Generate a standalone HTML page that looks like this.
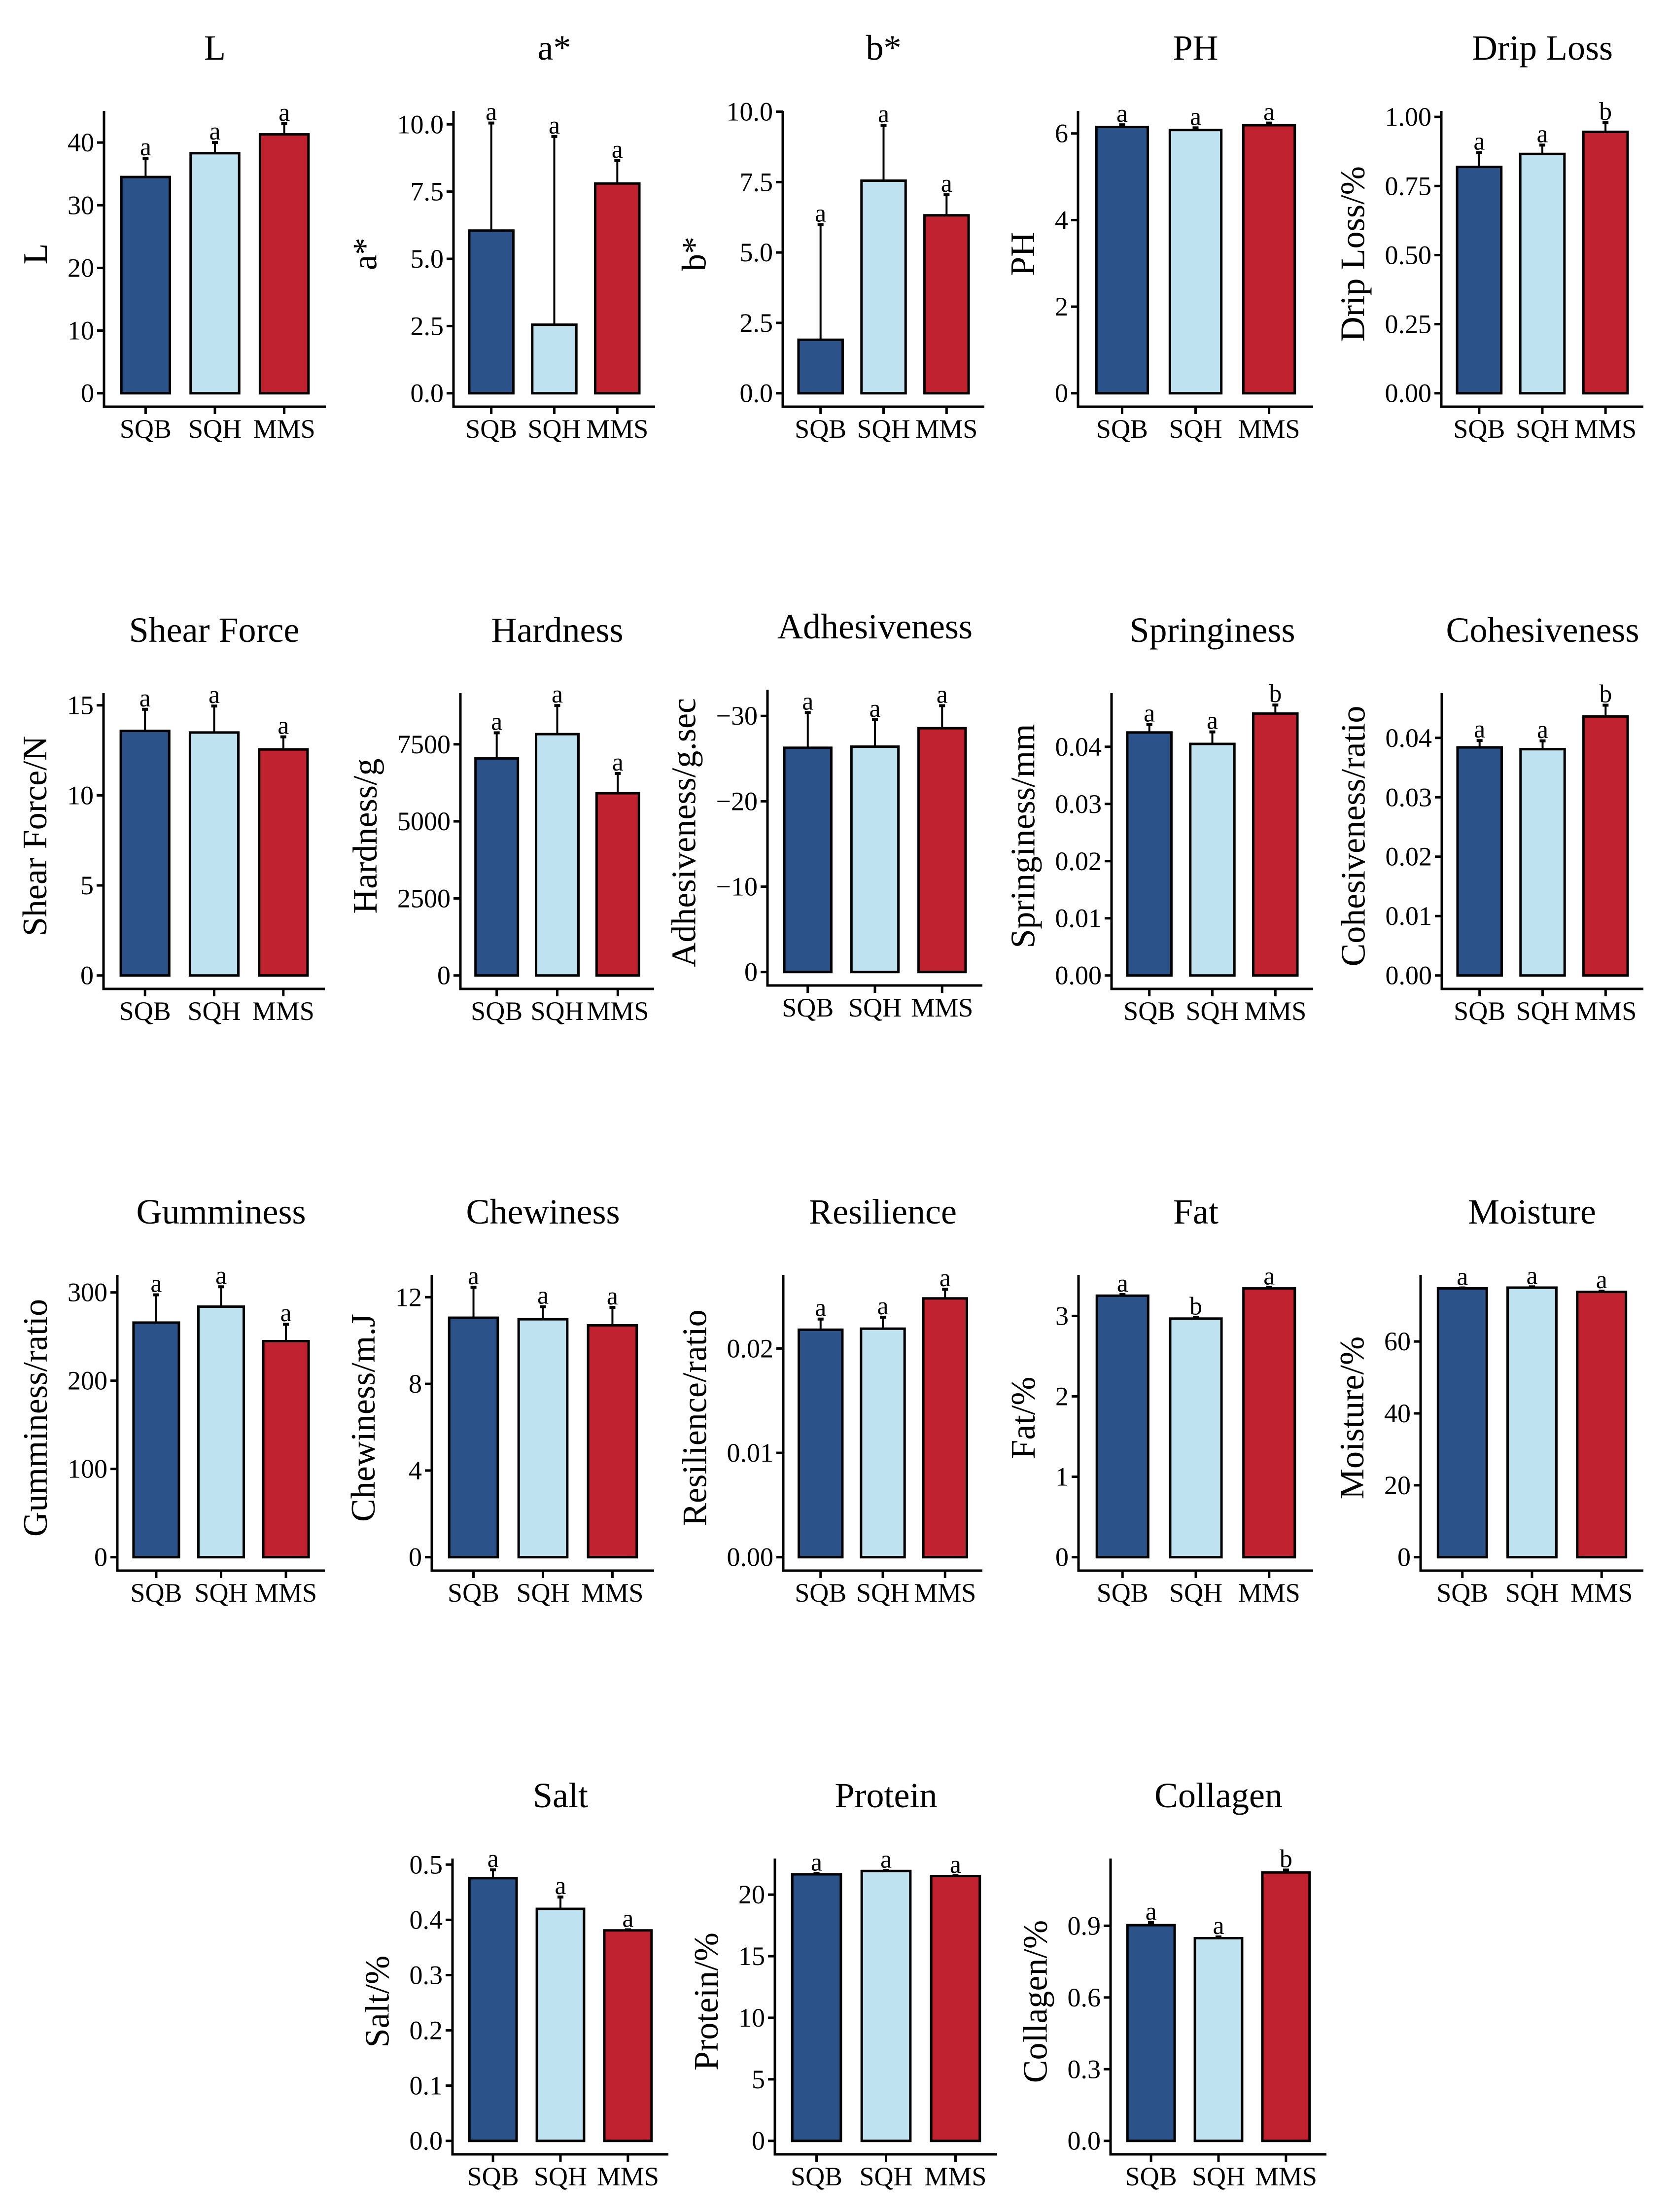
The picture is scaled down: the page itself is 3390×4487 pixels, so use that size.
<!DOCTYPE html>
<html><head><meta charset="utf-8"><style>
html,body{margin:0;padding:0;background:#fff;}
svg{display:block;}
text{font-family:"Liberation Serif","Times New Roman",serif;fill:#000;}
</style></head>
<body>
<svg id="fig" width="3390" height="4487" viewBox="0 0 3390 4487" xmlns="http://www.w3.org/2000/svg"></svg>
<script>
// ---- data ----
const categories = ["SQB","SQH","MMS"];
const panelTitles = ["L","a*","b*","PH","Drip Loss","Shear Force","Hardness","Adhesiveness","Springiness","Cohesiveness","Gumminess","Chewiness","Resilience","Fat","Moisture","Salt","Protein","Collagen"];
const yTitles = ["L","a*","b*","PH","Drip Loss/%","Shear Force/N","Hardness/g","Adhesiveness/g.sec","Springiness/mm","Cohesiveness/ratio","Gumminess/ratio","Chewiness/m.J","Resilience/ratio","Fat/%","Moisture/%","Salt/%","Protein/%","Collagen/%"];
const meanValues = [
 [34.5,38.3,41.3],[6.05,2.55,7.8],[1.9,7.55,6.32],[6.15,6.08,6.19],[0.819,0.866,0.946],
 [13.58,13.49,12.55],[7040,7830,5913],[26.27,26.4,28.56],[0.0425,0.0405,0.0458],[0.0384,0.0381,0.0436],
 [265.8,283.9,244.8],[11.05,10.98,10.7],[0.0218,0.0219,0.0248],[3.252,2.967,3.342],[74.76,74.98,73.8],
 [0.4754,0.4199,0.3809],[21.65,21.92,21.51],[0.9025,0.848,1.123]];
const errTops = [
 [37.5,40.0,43.0],[10.05,9.55,8.65],[5.99,9.52,7.05],[6.20,6.13,6.24],[0.871,0.898,0.979],
 [14.78,14.96,13.25],[7873,8757,6555],[30.4,29.56,31.2],[0.0439,0.0426,0.0473],[0.03955,0.0395,0.0455],
 [297.3,306.4,264],[12.46,11.56,11.53],[0.02282,0.023,0.02568],[3.266,2.98,3.355],[74.9,75.2,74.0],
 [0.4904,0.4412,0.382],[21.72,21.96,21.53],[0.9136,0.853,1.133]];
const letters = [
 ["a","a","a"],["a","a","a"],["a","a","a"],["a","a","a"],["a","a","b"],
 ["a","a","a"],["a","a","a"],["a","a","a"],["a","a","b"],["a","a","b"],
 ["a","a","a"],["a","a","a"],["a","a","a"],["a","b","a"],["a","a","a"],
 ["a","a","a"],["a","a","a"],["a","a","b"]];
const rangeMax = [42.9,10.0,9.55,6.21,0.973,14.93,8724,31.5,0.04703,0.04527,304.7,12.41,0.02577,3.344,74.8,0.4866,21.84,1.125];
const tickValues = [
 [0,10,20,30,40],[0,2.5,5,7.5,10],[0,2.5,5,7.5,10],[0,2,4,6],[0,0.25,0.5,0.75,1],
 [0,5,10,15],[0,2500,5000,7500],[0,10,20,30],[0,0.01,0.02,0.03,0.04],[0,0.01,0.02,0.03,0.04],
 [0,100,200,300],[0,4,8,12],[0,0.01,0.02],[0,1,2,3],[0,20,40,60],
 [0,0.1,0.2,0.3,0.4,0.5],[0,5,10,15,20],[0,0.3,0.6,0.9]];
const tickLabels = [
 ["0","10","20","30","40"],["0.0","2.5","5.0","7.5","10.0"],["0.0","2.5","5.0","7.5","10.0"],["0","2","4","6"],["0.00","0.25","0.50","0.75","1.00"],
 ["0","5","10","15"],["0","2500","5000","7500"],["0","\u221210","\u221220","\u221230"],["0.00","0.01","0.02","0.03","0.04"],["0.00","0.01","0.02","0.03","0.04"],
 ["0","100","200","300"],["0","4","8","12"],["0.00","0.01","0.02"],["0","1","2","3"],["0","20","40","60"],
 ["0.0","0.1","0.2","0.3","0.4","0.5"],["0","5","10","15","20"],["0.0","0.3","0.6","0.9"]];
const barColors = ["#2B5289","#BEE2F0","#C1222F"];

// ---- layout ----
const axisLeft = [211,920,1588,2187,2924, 210,934,1557,2255,2925, 238,876,1589,2188,2882, 918,1572,2253];
const axisRight = [661,1329,1997,2664,3334, 659,1327,1993,2664,3334, 659,1327,1993,2664,3334, 1356,2023,2691];
const axisBottom = [825,825,825,825,825, 2006,2006,1999,2006,2006, 3186,3186,3186,3186,3186, 4370,4370,4370];

const NS = "http://www.w3.org/2000/svg";
const svg = document.getElementById("fig");
function mk(tag, attrs, parent){
  const e = document.createElementNS(NS, tag);
  for (const k in attrs) e.setAttribute(k, attrs[k]);
  (parent||svg).appendChild(e);
  return e;
}

for (let p = 0; p < panelTitles.length; p++) {
  const g = mk("g", {});
  
  
  const L = axisLeft[p], Rt = axisRight[p], B = axisBottom[p];
  const H = 600, R = rangeMax[p];
  const k = H / (1.1 * R);
  const y = v => B - 0.05 * R * k - v * k;
  const u = (Rt - L) / 3.2;
  const xc = i => L + (i + 0.6) * u;
  const bw = 0.7 * u;

  // title
  const t = mk("text", {x:(L+Rt)/2, y:B-704, "font-size":72, "text-anchor":"middle"}, g);
  t.textContent = panelTitles[p];
  
  

  // bars
  for (let i = 0; i < 3; i++) {
    const v = meanValues[p][i], e = errTops[p][i];
    const el = mk("line", {x1:xc(i), x2:xc(i), y1:y(v), y2:y(e), stroke:"#000", "stroke-width":4}, g);
    
    
    const cap = mk("line", {x1:xc(i)-6, x2:xc(i)+6, y1:y(e), y2:y(e), stroke:"#000", "stroke-width":6}, g);
    
    
    const r = mk("rect", {x:xc(i)-bw/2, y:y(v), width:bw, height:y(0)-y(v), fill:barColors[i], stroke:"#000", "stroke-width":5}, g);
    
    
    const lt = mk("text", {x:xc(i), y:y(e)-6, "font-size":52, "text-anchor":"middle"}, g);
    lt.textContent = letters[p][i];
    
    
    // x tick + label
    mk("line", {x1:xc(i), x2:xc(i), y1:B, y2:B+15, stroke:"#000", "stroke-width":5}, g);
    const xl = mk("text", {x:xc(i), y:B+63, "font-size":54, "text-anchor":"middle"}, g);
    xl.textContent = categories[i];
    
    
  }

  // axes
  const ya = mk("line", {x1:L, x2:L, y1:B-H, y2:B+2.5, stroke:"#000", "stroke-width":5}, g);
  
  
  const xa = mk("line", {x1:L-2.5, x2:Rt, y1:B, y2:B, stroke:"#000", "stroke-width":5}, g);
  
  

  let minX = L;
  for (let j = 0; j < tickValues[p].length; j++) {
    const ty = y(tickValues[p][j]);
    mk("line", {x1:L-14, x2:L, y1:ty, y2:ty, stroke:"#000", "stroke-width":5}, g);
    const tl = mk("text", {x:L-20, y:ty+18, "font-size":54, "text-anchor":"end"}, g);
    tl.textContent = tickLabels[p][j];
    
    
    try { const bb = tl.getBBox(); if (bb.x < minX) minX = bb.x; } catch(err) {}
  }
  const cx = minX - 42, cy = B - H/2 - 10;
  const yt = mk("text", {x:cx, y:cy, "font-size":70, "text-anchor":"middle", transform:"rotate(-90 "+cx+" "+cy+")"}, g);
  yt.textContent = yTitles[p];
  
  
}
</script>
</body></html>
